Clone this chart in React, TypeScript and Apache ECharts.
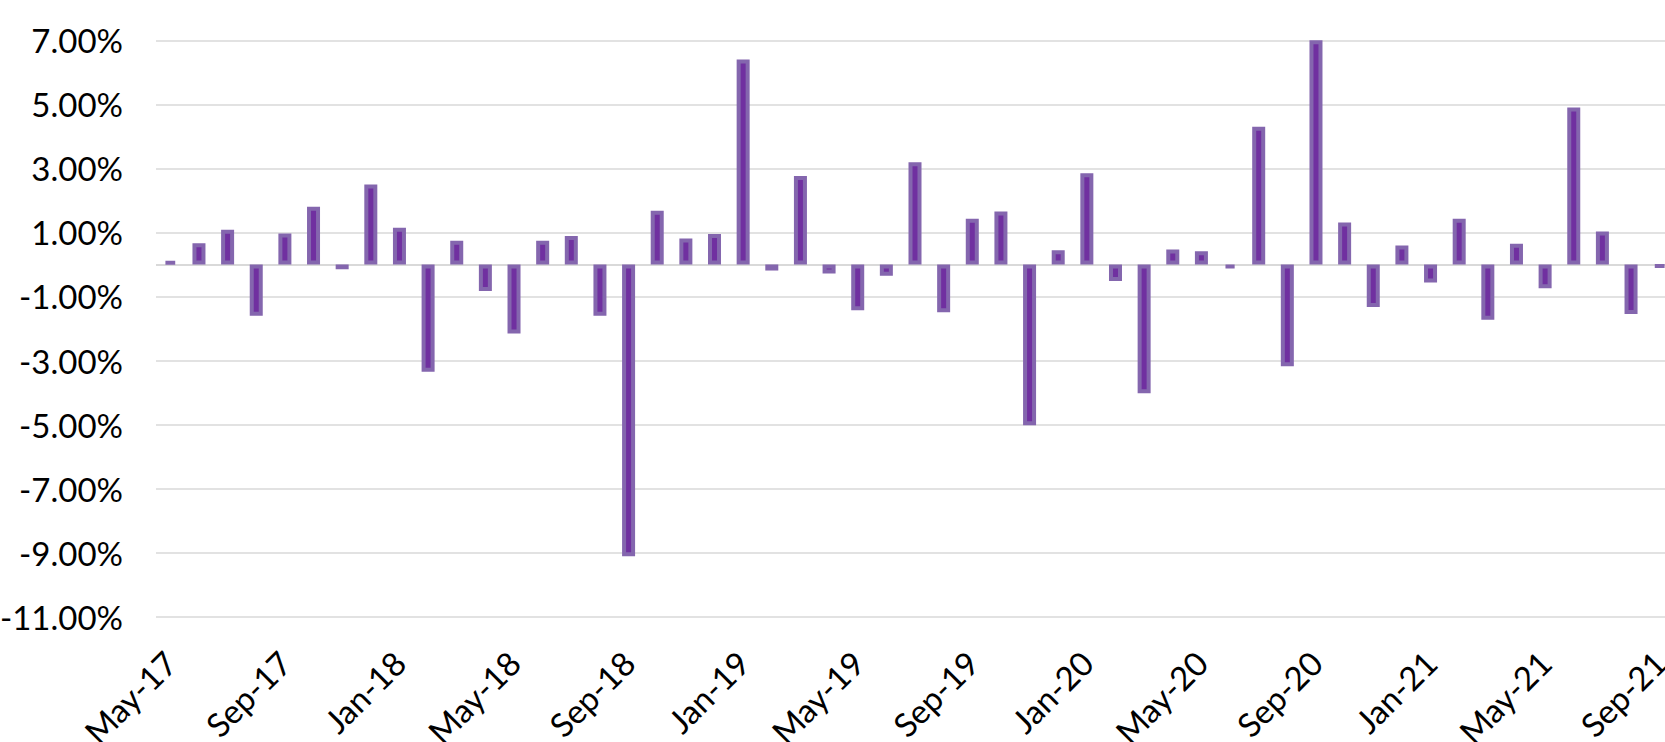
import React, { useEffect, useRef } from "react";
import * as echarts from "echarts";

const months = [
  "May-17","Jun-17","Jul-17","Aug-17","Sep-17","Oct-17","Nov-17","Dec-17",
  "Jan-18","Feb-18","Mar-18","Apr-18","May-18","Jun-18","Jul-18","Aug-18","Sep-18","Oct-18","Nov-18","Dec-18",
  "Jan-19","Feb-19","Mar-19","Apr-19","May-19","Jun-19","Jul-19","Aug-19","Sep-19","Oct-19","Nov-19","Dec-19",
  "Jan-20","Feb-20","Mar-20","Apr-20","May-20","Jun-20","Jul-20","Aug-20","Sep-20","Oct-20","Nov-20","Dec-20",
  "Jan-21","Feb-21","Mar-21","Apr-21","May-21","Jun-21","Jul-21","Aug-21","Sep-21",
];

const returns2017 = [0.1, 0.66, 1.08, -1.6, 0.97, 1.8, -0.15, 2.5];
const returns2018 = [1.15, -3.35, 0.74, -0.83, -2.16, 0.74, 0.89, -1.6, -9.11, 1.68, 0.81, 0.95];
const returns2019 = [6.4, -0.19, 2.76, -0.28, -1.43, -0.35, 3.19, -1.49, 1.43, 1.65, -5.02, 0.44];
const returns2020 = [2.85, -0.52, -4.02, 0.47, 0.41, -0.12, 4.3, -3.18, 7.0, 1.31, -1.33, 0.59];
const returns2021 = [-0.56, 1.43, -1.73, 0.65, -0.74, 4.9, 1.03, -1.55, -0.1];

const monthlyReturns = [
  ...returns2017,
  ...returns2018,
  ...returns2019,
  ...returns2020,
  ...returns2021,
];

const yMin = -11;
const yMax = 7;
const yStep = 2;

export default function App() {
  const ref = useRef<HTMLDivElement>(null);

  useEffect(() => {
    if (!ref.current) return;
    const chart = echarts.init(ref.current, null, { renderer: "svg" });
    const font = "Lato, 'Open Sans', sans-serif";
    chart.setOption({
      animation: false,
      backgroundColor: "#ffffff",
      grid: {
        left: 156,
        right: -9,
        top: 40.3,
        bottom: 125.3,
        containLabel: false,
        outerBoundsMode: "none",
      },
      xAxis: {
        type: "category",
        data: months,
        axisLine: { show: false, onZero: false },
        axisTick: { show: false },
        axisLabel: {
          interval: 3,
          rotate: 45,
          margin: 40,
          fontFamily: font,
          fontSize: 33,
          color: "#000",
        },
        splitLine: { show: false },
      },
      yAxis: {
        type: "value",
        min: yMin,
        max: yMax,
        interval: yStep,
        axisLine: { show: false },
        axisTick: { show: false },
        axisLabel: {
          margin: 33,
          fontFamily: font,
          fontSize: 33,
          color: "#000",
          formatter: (v: number) => v.toFixed(2) + "%",
        },
        splitLine: { lineStyle: { color: "#d9d9d9", width: 1.5 } },
      },
      series: [
        {
          type: "bar",
          data: monthlyReturns,
          barWidth: 13,
          itemStyle: {
            color: "#7030a0",
            borderColor: "#8466ae",
            borderWidth: 4,
          },
          markLine: {
            silent: true,
            symbol: ["none", "none"],
            label: { show: false },
            z: 1,
            lineStyle: { color: "#d9d9d9", width: 2, type: "solid" },
            data: [{ yAxis: 0 }],
          },
        },
      ],
    });
    return () => chart.dispose();
  }, []);

  return (
    <div style={{ position: "fixed", left: 0, top: 0, width: 1665, height: 742, overflow: "hidden", background: "#fff" }}>
      <div ref={ref} style={{ width: 1665, height: 742 }} />
    </div>
  );
}
